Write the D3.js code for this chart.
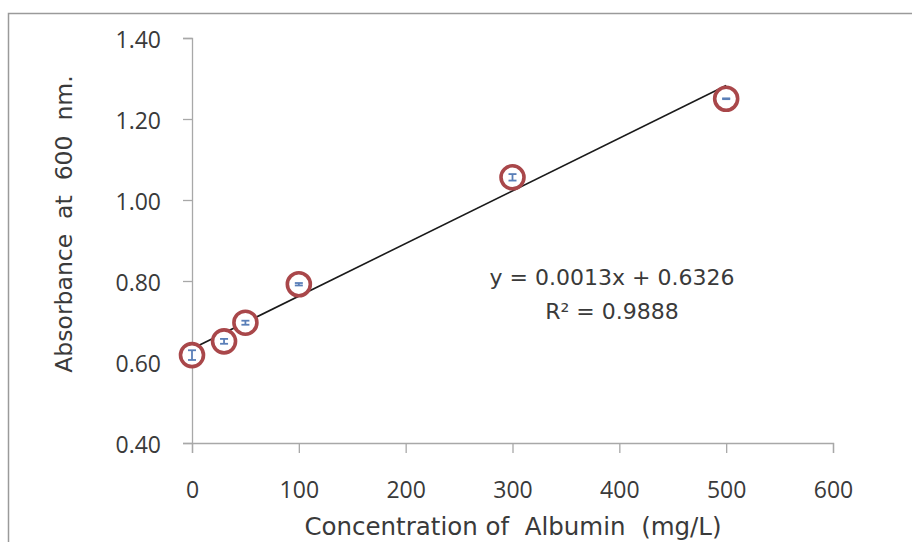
<!DOCTYPE html>
<html>
	<head>
		<meta charset="utf-8">
		<title>Albumin standard curve</title>
		<script src="https://cdn.jsdelivr.net/npm/d3@7"></script>
		<style>
			body { margin: 0; background: #fff; }
			text { font-family: "Open Sans", "DejaVu Sans", sans-serif; fill: #3a3a3a; white-space: pre; }
			.title, .eq { font-family: "DejaVu Sans", sans-serif; }
		</style>
	</head>
	<body>
		<div id="root"></div>
		<script>
			//data
			const concentrations = [0, 30, 50, 100, 300, 500];
			const absorbances = [0.617, 0.651, 0.697, 0.792, 1.056, 1.250];
			const errors = [0.012, 0.006, 0.005, 0.003, 0.008, 0.001];
			const xTicks = [0, 100, 200, 300, 400, 500, 600];
			const yTicks = [0.40, 0.60, 0.80, 1.00, 1.20, 1.40];
			const trend = { slope: 0.0013, intercept: 0.6326, from: 0, to: 500 };
			const equationLines = ["y = 0.0013x + 0.6326", "R² = 0.9888"];

			const width = 912;
			const height = 542;

			const xScale = d3.scaleLinear().domain([0, 600]).range([192, 833]);
			const yScale = d3.scaleLinear().domain([0.4, 1.4]).range([443, 38]);

			const svg = d3.select("#root")
			.append("svg")
			.attr("width", width)
			.attr("height", height);

			//chart frame (top and left edges show in the scan)
			svg.append("path")
			.attr("d", "M8.5," + height + "V13.5H" + width)
			.attr("fill", "none")
			.attr("stroke", "#9a9a9a")
			.attr("stroke-width", 1.5);

			//x axis
			const xAxis = svg.append("g")
			.attr("transform", "translate(0," + yScale(0.4) + ")")
			.call(d3.axisBottom(xScale).tickValues(xTicks).tickFormat(d3.format("d")).tickSize(10).tickPadding(29));

			//y axis
			const yAxis = svg.append("g")
			.attr("transform", "translate(" + xScale(0) + ",0)")
			.call(d3.axisLeft(yScale).tickValues(yTicks).tickFormat(d3.format(".2f")).tickSize(9).tickPadding(22));

			[xAxis, yAxis].forEach(function(ax){
				ax.select(".domain").attr("stroke", "#a8a8a8").attr("stroke-width", 1.3);
				ax.selectAll(".tick line").attr("stroke", "#a8a8a8").attr("stroke-width", 1.3);
				ax.selectAll(".tick text").style("font-size", "23px").attr("fill", "#3a3a3a");
			});
			yAxis.selectAll(".tick text").attr("dy", "0.4em");

			//linear trendline
			svg.append("line")
			.attr("x1", xScale(trend.from))
			.attr("y1", yScale(trend.intercept + trend.slope * trend.from))
			.attr("x2", xScale(trend.to))
			.attr("y2", yScale(trend.intercept + trend.slope * trend.to))
			.attr("stroke", "#1a1a1a")
			.attr("stroke-width", 1.6);

			const points = concentrations.map((c, i) => ({ x: c, y: absorbances[i], e: errors[i] }));

			//markers
			svg.selectAll("circle.pt")
			.data(points)
			.enter()
			.append("circle")
			.attr("class", "pt")
			.attr("cx", (d) => xScale(d.x))
			.attr("cy", (d) => yScale(d.y))
			.attr("r", 11.5)
			.attr("fill", "#fff")
			.attr("stroke", "#a9474a")
			.attr("stroke-width", 3.6);

			//error bars
			const bars = svg.selectAll("g.err")
			.data(points)
			.enter()
			.append("g")
			.attr("class", "err")
			.attr("stroke", "#5a7fb8")
			.attr("stroke-width", 1.8);

			bars.append("line")
			.attr("x1", (d) => xScale(d.x))
			.attr("x2", (d) => xScale(d.x))
			.attr("y1", (d) => yScale(d.y - d.e))
			.attr("y2", (d) => yScale(d.y + d.e));

			[-1, 1].forEach(function(s){
				bars.append("line")
				.attr("x1", (d) => xScale(d.x) - 4)
				.attr("x2", (d) => xScale(d.x) + 4)
				.attr("y1", (d) => yScale(d.y + s * d.e))
				.attr("y2", (d) => yScale(d.y + s * d.e));
			});

			//trendline equation
			svg.selectAll("text.eq")
			.data(equationLines)
			.enter()
			.append("text")
			.attr("class", "eq")
			.attr("x", 612)
			.attr("y", (d, i) => 285 + i * 33.5)
			.attr("text-anchor", "middle")
			.style("font-size", "22px")
			.text((d) => d);

			//axis titles
			svg.append("text")
			.attr("class", "title")
			.attr("x", 513)
			.attr("y", 535)
			.attr("text-anchor", "middle")
			.style("font-size", "24.5px")
			.text("Concentration of  Albumin  (mg/L)");

			svg.append("text")
			.attr("class", "title")
			.attr("transform", "translate(72,224) rotate(-90)")
			.attr("text-anchor", "middle")
			.style("font-size", "23.5px")
			.text("Absorbance  at  600  nm.");
		</script>
	</body>
</html>
